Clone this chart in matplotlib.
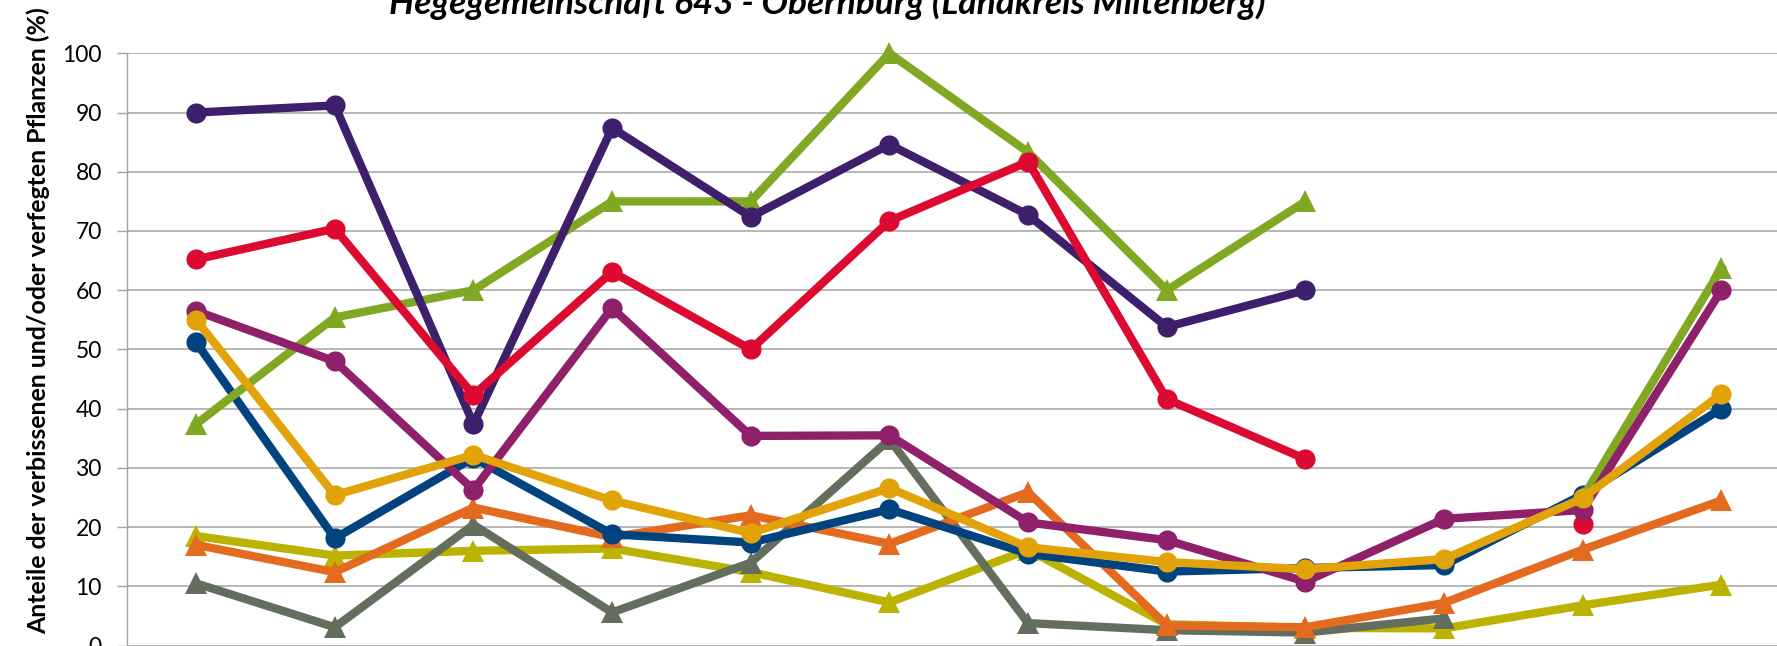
import numpy as np
import matplotlib
matplotlib.use("Agg")
import matplotlib.pyplot as plt

nan = np.nan
# category positions (x-axis labels are cropped out of the reference)
categories = list(range(12))

s_purple  = [90.0, 91.2, 37.4, 87.4, 72.4, 84.6, 72.7, 53.8, 60.0, nan, nan, nan]
s_red     = [65.2, 70.4, 42.3, 63.1, 50.0, 71.7, 81.7, 41.6, 31.5, nan, 20.6, nan]
s_green   = [37.4, 55.4, 60.0, 75.0, 75.0, 100.0, 83.3, 60.0, 75.0, nan, 25.0, 63.7]
s_magenta = [56.5, 48.0, 26.3, 57.0, 35.4, 35.5, 20.8, 17.8, 10.8, 21.4, 22.9, 60.0]
s_gold    = [55.0, 25.4, 32.2, 24.5, 19.0, 26.6, 16.6, 14.1, 12.9, 14.6, 24.9, 42.5]
s_blue    = [51.2, 18.1, 31.7, 18.8, 17.4, 23.0, 15.5, 12.5, 13.1, 13.6, 25.5, 40.0]
s_orange  = [17.0, 12.4, 23.3, 18.3, 22.0, 17.2, 25.9, 3.4, 3.1, 7.2, 16.2, 24.5]
s_olive   = [18.5, 15.2, 16.0, 16.4, 12.4, 7.3, 16.2, 3.6, 3.0, 2.9, 6.8, 10.3]
s_gray    = [10.5, 3.1, 20.4, 5.6, 14.0, 34.8, 3.8, 2.6, 2.2, 4.6, nan, nan]

title = "Hegegemeinschaft 643 - Obernburg (Landkreis Miltenberg)"
ylabel = "Anteile der verbissenen und/oder verfegten Pflanzen (%)"
yticks = [0, 10, 20, 30, 40, 50, 60, 70, 80, 90, 100]

W, H, DPI = 1777, 646, 100
fig = plt.figure(figsize=(W / DPI, H / DPI), dpi=DPI)
ax = fig.add_axes([126.8 / W, 0.4 / H, (1790.8 - 126.8) / W, (645.6 - 53.3) / H])

grid_c = "#A3A3A3"
ax.set_xlim(-0.5, 11.5)
ax.set_ylim(0, 100)
ax.set_yticks(yticks)
ax.set_yticklabels([str(t) for t in yticks], fontsize=16.5, family="Lato")
ax.tick_params(axis="y", length=7, width=1.0, color=grid_c, pad=11)
ax.set_xticks([])
for sp in ["top", "right", "bottom"]:
    ax.spines[sp].set_visible(False)
ax.spines["left"].set_color(grid_c)
ax.spines["left"].set_linewidth(1.0)
ax.yaxis.grid(True, color=grid_c, linewidth=1.1)
ax.set_axisbelow(True)

series = [
    (s_olive, "#BBB300", "^"),
    (s_gray, "#636F5C", "^"),
    (s_orange, "#E36A1E", "^"),
    (s_blue, "#00437F", "o"),
    (s_green, "#80A822", "^"),
    (s_purple, "#3D1F6B", "o"),
    (s_red, "#DC0A30", "o"),
    (s_magenta, "#8E2169", "o"),
    (s_gold, "#E2A308", "o"),
]
x = np.array(categories, dtype=float)
for i, (vals, col, mk) in enumerate(series):
    ms = 14.5 if mk == "o" else 15.5
    ax.plot(x, vals, color=col, linewidth=6.0, marker=mk, markersize=ms,
            markeredgewidth=0, solid_joinstyle="miter", clip_on=False, zorder=3 + i)

# title and y label, fitted to measured extents
renderer = fig.canvas.get_renderer()

def fit(t, target, horiz=True):
    for _ in range(4):
        bb = t.get_window_extent(renderer)
        cur = bb.width if horiz else bb.height
        t.set_fontsize(t.get_fontsize() * target / cur)

tt = fig.text(827 / W, 1 - 13.5 / H, title, ha="center", va="baseline",
              fontsize=20, fontweight="bold", fontstyle="italic", family="Lato")
fit(tt, 877, True)

yl = fig.text(38.5 / W, 1 - 321 / H, ylabel, ha="center", va="center", rotation=90,
              fontsize=16, fontweight="bold", family="Lato")
fit(yl, 629, False)

fig.savefig("out.png", dpi=DPI)
